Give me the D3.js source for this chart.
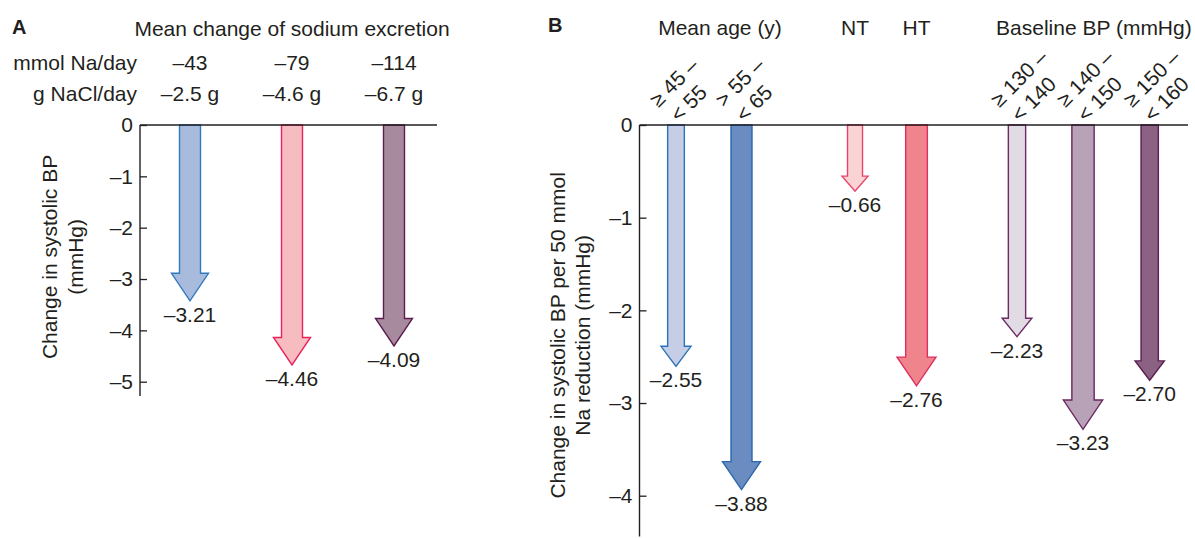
<!DOCTYPE html>
<html><head><meta charset="utf-8">
<script src="https://cdn.jsdelivr.net/npm/d3@7"></script>
<style>
body{margin:0;background:#fff}
svg{display:block}
text{font-family:"Liberation Sans",Arial,Helvetica,sans-serif;fill:#231f20}
</style>
</head><body><svg id="chart" width="1195" height="538"></svg>
<script>
// ---------- Panel A data ----------
const sodiumMmolA = ["–43", "–79", "–114"];
const sodiumNaClA = ["–2.5 g", "–4.6 g", "–6.7 g"];
const changeA = [-3.21, -4.46, -4.09];
const ticksA = [0, -1, -2, -3, -4, -5];

// ---------- Panel B data ----------
const groupLine1B = ["≥ 45 –", "> 55 –", "", "", "≥ 130 –", "≥ 140 –", "≥ 150 –"];
const groupLine2B = ["< 55", "< 65", "", "", "< 140", "< 150", "< 160"];
const changeB = [-2.55, -3.88, -0.66, -2.76, -2.23, -3.23, -2.70];
const ticksB = [0, -1, -2, -3, -4];
const headersB = ["Mean age (y)", "NT", "HT", "Baseline BP (mmHg)"];

// ---------- styles / layout ----------
const fillA = ["#a9bbdd", "#f6bcbf", "#a88a9f"];
const strokeA = ["#2f79bd", "#e8235c", "#5c1e4f"];
const fillB = ["#c5cde7", "#6a8cc1", "#fad4d4", "#ef848c", "#e1dbe3", "#b8a2b7", "#8b6283"];
const strokeB = ["#2a72b8", "#2a67ad", "#e8436c", "#dd2e5d", "#6d2a63", "#6a2660", "#5a1f50"];
const shaftB = [16.7, 21, 15, 21.7, 17.3, 22.3, 17.3];
const headWB = [30, 38, 26, 39, 29.7, 39.3, 29.3];
const headLB = [20, 28, 15, 28.7, 18.4, 29.3, 19.3];
const slotB = [0, 1, 2.733, 3.672, 5.206, 6.214, 7.232];
const headerSlotB = [0.672, 2.733, 3.672, 6.38];

const FS = 21;
const AXIS = "#231f20";
const svg = d3.select("#chart");
const dash = v => (v < 0 ? "–" : "") + Math.abs(v);
const dash2 = v => (v < 0 ? "–" : "") + Math.abs(v).toFixed(2);

function arrowPts(cx, y0, tip, sw, hw, hl) {
  const base = tip - hl;
  return [[cx - sw/2, y0], [cx + sw/2, y0], [cx + sw/2, base], [cx + hw/2, base],
          [cx, tip], [cx - hw/2, base], [cx - sw/2, base]].map(p => p.join(",")).join(" ");
}

// ================= Panel A =================
const xA = d3.scaleLinear().domain([0, 2]).range([190, 394]);
const yA = d3.scaleLinear().domain([0, -5]).range([125, 381.7]);
const axAx = 140, overA = 11;

svg.append("text").attr("x", 12).attr("y", 34).attr("font-size", 20).attr("font-weight", "bold").text("A");
svg.append("text").attr("x", xA(1)).attr("y", 36).attr("font-size", FS).attr("text-anchor", "middle").text("Mean change of sodium excretion");
svg.append("text").attr("x", 137).attr("y", 70).attr("font-size", FS).attr("text-anchor", "end").text("mmol Na/day");
svg.append("text").attr("x", 137).attr("y", 101).attr("font-size", FS).attr("text-anchor", "end").text("g NaCl/day");
svg.selectAll(".mmolA").data(sodiumMmolA).join("text")
  .attr("x", (d, i) => xA(i)).attr("y", 70).attr("font-size", FS).attr("text-anchor", "middle").text(d => d);
svg.selectAll(".naclA").data(sodiumNaClA).join("text")
  .attr("x", (d, i) => xA(i)).attr("y", 101).attr("font-size", FS).attr("text-anchor", "middle").text(d => d);

const arrA = svg.append("g");
changeA.forEach((v, i) => {
  const tip = yA(v) + overA;
  arrA.append("polygon").attr("points", arrowPts(xA(i), yA(0), tip, 21, 37, 27.5))
    .attr("fill", fillA[i]).attr("stroke", strokeA[i]).attr("stroke-width", 1.4).attr("stroke-linejoin", "miter");
  arrA.append("text").attr("x", xA(i)).attr("y", tip + 21).attr("font-size", FS).attr("text-anchor", "middle").text(dash2(v));
});

const gA = svg.append("g").attr("transform", `translate(${axAx},0)`)
  .call(d3.axisLeft(yA).tickValues(ticksA).tickSizeInner(-7).tickSizeOuter(0).tickPadding(7).tickFormat(dash));
gA.select(".domain").remove();
gA.selectAll(".tick line").attr("stroke", AXIS).attr("stroke-width", 1.3);
gA.selectAll(".tick text").attr("font-size", FS).attr("font-family", null).attr("fill", AXIS);
svg.append("line").attr("x1", axAx).attr("x2", axAx).attr("y1", yA(0)).attr("y2", yA(-5.28)).attr("stroke", AXIS).attr("stroke-width", 1.4);
svg.append("line").attr("x1", axAx).attr("x2", 437).attr("y1", yA(0)).attr("y2", yA(0)).attr("stroke", AXIS).attr("stroke-width", 1.4);

const tA = svg.append("text").attr("transform", `translate(57,${yA(-2.57)}) rotate(-90)`).attr("font-size", FS).attr("text-anchor", "middle");
tA.append("tspan").attr("x", 0).attr("y", 0).text("Change in systolic BP");
tA.append("tspan").attr("x", 0).attr("y", 26).text("(mmHg)");

// ================= Panel B =================
const xB = d3.scaleLinear().domain([0, 1]).range([676, 741.5]);
const yB = d3.scaleLinear().domain([0, -4]).range([125, 495.7]);
const axBx = 639.5, overB = 5;

svg.append("text").attr("x", 548).attr("y", 32).attr("font-size", 20).attr("font-weight", "bold").text("B");
svg.selectAll(".hdrB").data(headersB).join("text")
  .attr("x", (d, i) => xB(headerSlotB[i])).attr("y", 35).attr("font-size", FS).attr("text-anchor", "middle").text(d => d);

// rotated group labels
groupLine1B.forEach((l1, i) => {
  if (!l1) return;
  const t = svg.append("text").attr("transform", `translate(${xB(slotB[i]) + 3},123) rotate(-45)`).attr("font-size", FS);
  t.append("tspan").attr("x", -4).attr("y", -25).text(l1);
  t.append("tspan").attr("x", 0).attr("y", 0).text(groupLine2B[i]);
});

const arrB = svg.append("g");
changeB.forEach((v, i) => {
  const tip = yB(v) + overB;
  const cx = xB(slotB[i]);
  arrB.append("polygon").attr("points", arrowPts(cx, yB(0), tip, shaftB[i], headWB[i], headLB[i]))
    .attr("fill", fillB[i]).attr("stroke", strokeB[i]).attr("stroke-width", 1.4);
  arrB.append("text").attr("x", cx).attr("y", tip + 21).attr("font-size", FS).attr("text-anchor", "middle").text(dash2(v));
});

const gB = svg.append("g").attr("transform", `translate(${axBx},0)`)
  .call(d3.axisLeft(yB).tickValues(ticksB).tickSizeInner(-7).tickSizeOuter(0).tickPadding(7).tickFormat(dash));
gB.select(".domain").remove();
gB.selectAll(".tick line").attr("stroke", AXIS).attr("stroke-width", 1.3);
gB.selectAll(".tick text").attr("font-size", FS).attr("font-family", null).attr("fill", AXIS);
svg.append("line").attr("x1", axBx).attr("x2", axBx).attr("y1", yB(0)).attr("y2", yB(-4.44)).attr("stroke", AXIS).attr("stroke-width", 1.4);
svg.append("line").attr("x1", axBx).attr("x2", 1188).attr("y1", yB(0)).attr("y2", yB(0)).attr("stroke", AXIS).attr("stroke-width", 1.4);

const tB = svg.append("text").attr("transform", `translate(565,${yB(-2.27)}) rotate(-90)`).attr("font-size", FS).attr("text-anchor", "middle");
tB.append("tspan").attr("x", 0).attr("y", 0).text("Change in systolic BP per 50 mmol");
tB.append("tspan").attr("x", 0).attr("y", 25).text("Na reduction (mmHg)");
</script>
</body></html>
